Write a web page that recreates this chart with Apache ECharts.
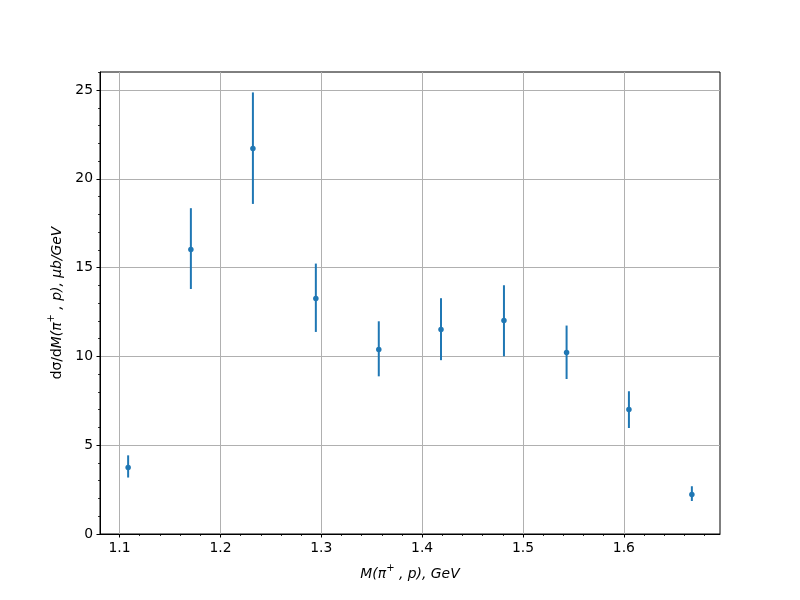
<!DOCTYPE html>
<html>
<head>
<meta charset="utf-8">
<script src="https://cdn.jsdelivr.net/npm/echarts@6/dist/echarts.min.js"></script>
<style>html,body{margin:0;padding:0;background:#fff}#c{width:800px;height:600px}</style>
</head>
<body>
<div id="c"></div>
<script>
const massValues = [1.1085, 1.1707, 1.2322, 1.2946, 1.3570, 1.4187, 1.4811, 1.5432, 1.6050, 1.6674];
const crossSection = [3.74, 16.02, 21.71, 13.26, 10.39, 11.52, 12.02, 10.22, 7.01, 2.22];
const errLow = [3.18, 13.80, 18.59, 11.38, 8.88, 9.79, 10.01, 8.73, 5.97, 1.86];
const errHigh = [4.43, 18.35, 24.87, 15.23, 11.98, 13.28, 14.01, 11.74, 8.04, 2.69];
const xTicks = [1.1, 1.2, 1.3, 1.4, 1.5, 1.6];
const yTicks = [0, 5, 10, 15, 20, 25];

const FONT = 'DejaVu Sans';
const C = '#1f77b4';

const chart = echarts.init(document.getElementById('c'), null, {renderer: 'canvas'});
const pts = massValues.map((x, i) => [x, crossSection[i]]);
const errs = massValues.map((x, i) => [x, errLow[i], errHigh[i]]);

const richName = {
  u: {fontFamily: FONT, fontSize: 13.9, color: '#000', lineHeight: 18, verticalAlign: 'bottom'},
  i: {fontFamily: FONT, fontSize: 13.9, fontStyle: 'italic', color: '#000', lineHeight: 18, verticalAlign: 'bottom'},
  s: {fontFamily: FONT, fontSize: 10, color: '#000', lineHeight: 18, verticalAlign: 'top'}
};

chart.setOption({
  animation: false,
  backgroundColor: '#fff',
  grid: {left: 100, right: 80, top: 72, bottom: 66, show: true, borderColor: '#000', borderWidth: 1, backgroundColor: 'transparent', containLabel: false},
  xAxis: {
    type: 'value', min: 1.0806, max: 1.6953, splitNumber: 6,
    name: '{i|M(π}{s|+}{i| , p), GeV}', nameLocation: 'middle', nameGap: 29,
    nameTextStyle: {fontFamily: FONT, fontSize: 13.9, color: '#000', rich: richName},
    axisLine: {show: true, onZero: false, lineStyle: {color: '#000', width: 1}},
    axisTick: {show: true, inside: false, length: 3.5, customValues: xTicks, lineStyle: {color: '#000', width: 1}},
    minorTick: {show: true, splitNumber: 5, length: 2, lineStyle: {color: '#000', width: 0.8}},
    axisLabel: {customValues: xTicks, margin: 7, fontFamily: FONT, fontSize: 13.9, color: '#000', formatter: v => Number(v).toFixed(1)},
    splitLine: {show: true, lineStyle: {color: '#b0b0b0', width: 1}}
  },
  yAxis: {
    type: 'value', min: 0, max: 26.02, interval: 5,
    name: '{u|dσ/d}{i|M(π}{s|+}{i| , p), μb/GeV}', nameLocation: 'middle', nameGap: 36, nameRotate: 90,
    nameTextStyle: {fontFamily: FONT, fontSize: 13.9, color: '#000', rich: richName},
    axisLine: {show: true, lineStyle: {color: '#000', width: 1}},
    axisTick: {show: true, inside: false, length: 3.5, customValues: yTicks, lineStyle: {color: '#000', width: 1}},
    minorTick: {show: true, splitNumber: 5, length: 2, lineStyle: {color: '#000', width: 0.8}},
    axisLabel: {customValues: yTicks, margin: 7, fontFamily: FONT, fontSize: 13.9, color: '#000'},
    splitLine: {show: true, lineStyle: {color: '#b0b0b0', width: 1}}
  },
  series: [
    {
      type: 'custom',
      data: errs,
      renderItem: function (params, api) {
        const x = api.value(0);
        const p1 = api.coord([x, api.value(1)]);
        const p2 = api.coord([x, api.value(2)]);
        return {type: 'line', shape: {x1: p1[0], y1: p1[1], x2: p2[0], y2: p2[1]}, style: {stroke: C, lineWidth: 2}};
      },
      z: 3
    },
    {
      type: 'scatter', data: pts, symbol: 'circle', symbolSize: 5.5,
      itemStyle: {color: C, opacity: 1}, z: 4
    }
  ]
});
</script>
</body>
</html>
